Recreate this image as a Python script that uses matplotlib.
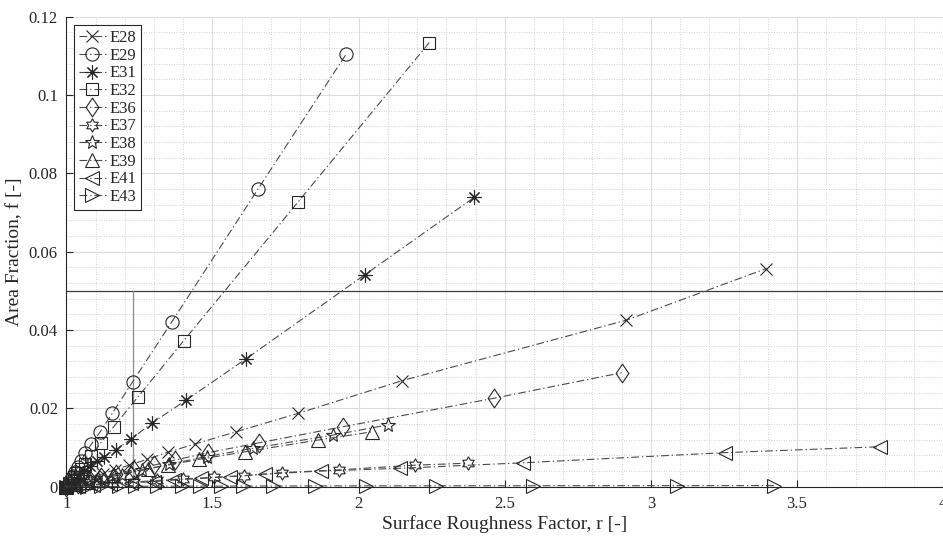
import matplotlib
matplotlib.use("Agg")
import matplotlib.pyplot as plt
from matplotlib.path import Path
from matplotlib.ticker import MultipleLocator

plt.rcParams['font.family'] = ['Liberation Serif', 'DejaVu Serif']
plt.rcParams['mathtext.fontset'] = 'stix'

# ---- data: surface roughness factor r and area fraction f per sample ----
labels = ["E28", "E29", "E31", "E32", "E36", "E37", "E38", "E39", "E41", "E43"]

r_E28 = [1.0, 1.03, 1.06, 1.09, 1.125, 1.165, 1.215, 1.277, 1.347, 1.440, 1.580, 1.792, 2.150, 2.915, 3.395]
f_E28 = [0.0, 0.0008, 0.0016, 0.0024, 0.0033, 0.0043, 0.0055, 0.0070, 0.0088, 0.0109, 0.0140, 0.0187, 0.0271, 0.0425, 0.0557]

r_E29 = [1.0, 1.008, 1.015, 1.022, 1.030, 1.040, 1.051, 1.064, 1.085, 1.115, 1.157, 1.227, 1.361, 1.655, 1.957]
f_E29 = [0.0, 0.0010, 0.0019, 0.0028, 0.0038, 0.0051, 0.0066, 0.0085, 0.0108, 0.0139, 0.0187, 0.0268, 0.0421, 0.0759, 0.1104]

r_E31 = [1.0, 1.015, 1.028, 1.043, 1.060, 1.080, 1.104, 1.130, 1.169, 1.221, 1.292, 1.410, 1.614, 2.021, 2.396]
f_E31 = [0.0, 0.0010, 0.0019, 0.0029, 0.0040, 0.0053, 0.0066, 0.0077, 0.0094, 0.0121, 0.0162, 0.0221, 0.0326, 0.0541, 0.0739]

r_E32 = [1.0, 1.010, 1.018, 1.027, 1.037, 1.049, 1.064, 1.085, 1.118, 1.162, 1.245, 1.402, 1.794, 2.242]
f_E32 = [0.0, 0.0010, 0.0017, 0.0025, 0.0034, 0.0045, 0.0058, 0.0078, 0.0112, 0.0153, 0.0229, 0.0373, 0.0728, 0.1134]

r_E36 = [1.0, 1.04, 1.08, 1.12, 1.17, 1.23, 1.30, 1.372, 1.486, 1.659, 1.946, 2.464, 2.900]
f_E36 = [0.0, 0.0008, 0.0016, 0.0024, 0.0033, 0.0043, 0.0055, 0.0068, 0.0087, 0.0112, 0.0153, 0.0226, 0.0291]

r_E37 = [1.0, 1.05, 1.10, 1.16, 1.23, 1.31, 1.40, 1.506, 1.609, 1.739, 1.933, 2.193, 2.373]
f_E37 = [0.0, 0.0003, 0.0006, 0.0009, 0.0012, 0.0016, 0.0020, 0.0024, 0.0028, 0.0036, 0.0043, 0.0055, 0.0060]

r_E38 = [1.0, 1.04, 1.08, 1.13, 1.19, 1.26, 1.35, 1.480, 1.638, 1.914, 2.102]
f_E38 = [0.0, 0.0007, 0.0014, 0.0022, 0.0031, 0.0042, 0.0057, 0.0077, 0.0098, 0.0132, 0.0158]

r_E39 = [1.0, 1.03, 1.07, 1.11, 1.16, 1.22, 1.28, 1.347, 1.455, 1.611, 1.860, 2.045]
f_E39 = [0.0, 0.0006, 0.0013, 0.0020, 0.0029, 0.0038, 0.0046, 0.0055, 0.0070, 0.0089, 0.0119, 0.0140]

r_E41 = [1.0, 1.04, 1.09, 1.15, 1.22, 1.30, 1.37, 1.461, 1.560, 1.680, 1.870, 2.142, 2.561, 3.254, 3.784]
f_E41 = [0.0, 0.0002, 0.0004, 0.0007, 0.0010, 0.0013, 0.0017, 0.0021, 0.0026, 0.0032, 0.0040, 0.0047, 0.0061, 0.0087, 0.0102]

r_E43 = [1.0, 1.03, 1.07, 1.12, 1.18, 1.235, 1.31, 1.395, 1.457, 1.53, 1.603, 1.708, 1.851, 2.025, 2.265, 2.598, 3.088, 3.422]
f_E43 = [0.0, 0.00002, 0.00004, 0.00006, 0.00008, 0.0001, 0.00012, 0.00014, 0.00015, 0.00016, 0.00017, 0.00018, 0.0002, 0.00021, 0.00022, 0.00024, 0.00026, 0.00028]

# reference lines
f_limit = 0.05
r_limit = 1.228

# ---- marker shapes ----
diamond = Path([(0, 1), (0.68, 0), (0, -1), (-0.68, 0), (0, 1)],
               [Path.MOVETO, Path.LINETO, Path.LINETO, Path.LINETO, Path.CLOSEPOLY])
hexagram = Path.unit_regular_star(6, innerCircle=0.577)

series = [
    (r_E28, f_E28, "x", 8),
    (r_E29, f_E29, "o", 9.5),
    (r_E31, f_E31, (8, 2, 0), 10),
    (r_E32, f_E32, "s", 8),
    (r_E36, f_E36, diamond, 13.5),
    (r_E37, f_E37, hexagram, 9.5),
    (r_E38, f_E38, "*", 10),
    (r_E39, f_E39, "^", 10.5),
    (r_E41, f_E41, "<", 10.5),
    (r_E43, f_E43, ">", 10.5),
]

fig = plt.figure(figsize=(9.43, 5.36), dpi=100)
ax = fig.add_axes([66.3 / 943, (536 - 486.7) / 536, (943.2 - 66.3) / 943, (486.7 - 16.7) / 536])

line_col = "#4a4a4a"
mark_col = "#262626"
dash = (0, (7, 2.6, 1.2, 2.6))

for (r, f, m, ms), lab in zip(series, labels):
    ax.plot(r, f, linestyle=dash, color=line_col, linewidth=0.8,
            marker=m, markersize=ms, markerfacecolor="none",
            markeredgecolor=mark_col, markeredgewidth=0.8,
            label=lab, clip_on=False, zorder=3)

ax.axhline(f_limit, color="#3a3a3a", linewidth=0.9, zorder=2)
ax.plot([r_limit, r_limit], [0, f_limit], color="#8a8a8a", linewidth=0.9, zorder=2)

ax.set_xlim(1, 4)
ax.set_ylim(0, 0.12)
ax.xaxis.set_major_locator(MultipleLocator(0.5))
ax.xaxis.set_minor_locator(MultipleLocator(0.1))
ax.yaxis.set_major_locator(MultipleLocator(0.02))
ax.yaxis.set_minor_locator(MultipleLocator(0.004))
ax.set_xticks([1, 1.5, 2, 2.5, 3, 3.5, 4])
ax.set_xticklabels(["1", "1.5", "2", "2.5", "3", "3.5", "4"])
ax.set_yticks([0, 0.02, 0.04, 0.06, 0.08, 0.1, 0.12])
ax.set_yticklabels(["0", "0.02", "0.04", "0.06", "0.08", "0.1", "0.12"])

ax.grid(True, which="major", color="#dcdcdc", linewidth=0.8, linestyle="-")
ax.grid(True, which="minor", color="#c4c4c4", linewidth=0.6, linestyle=(0, (1, 2)))
ax.set_axisbelow(True)

for s in ("top", "right"):
    ax.spines[s].set_visible(False)
for s in ("left", "bottom"):
    ax.spines[s].set_color("#262626")
    ax.spines[s].set_linewidth(0.8)

ax.tick_params(which="major", direction="in", length=5, width=0.8, color="#262626",
               labelsize=12, labelcolor="#262626")
ax.tick_params(axis="x", which="major", pad=7)
ax.tick_params(axis="y", which="major", pad=6)
ax.tick_params(which="minor", length=0)

ax.set_xlabel("Surface Roughness Factor, r [-]", fontsize=14, color="#262626", labelpad=2)
ax.set_ylabel("Area Fraction, f [-]", fontsize=14, color="#262626", labelpad=4)

leg = ax.legend(loc="upper left", bbox_to_anchor=(0.0088, 0.982), fontsize=12,
                handlelength=1.6, handletextpad=0.2, labelspacing=0.1,
                borderpad=0.3, borderaxespad=0.0, fancybox=False, framealpha=1,
                edgecolor="#262626")
leg.get_frame().set_linewidth(0.8)
for t in leg.get_texts():
    t.set_color("#262626")

fig.savefig("out.png", dpi=100)
